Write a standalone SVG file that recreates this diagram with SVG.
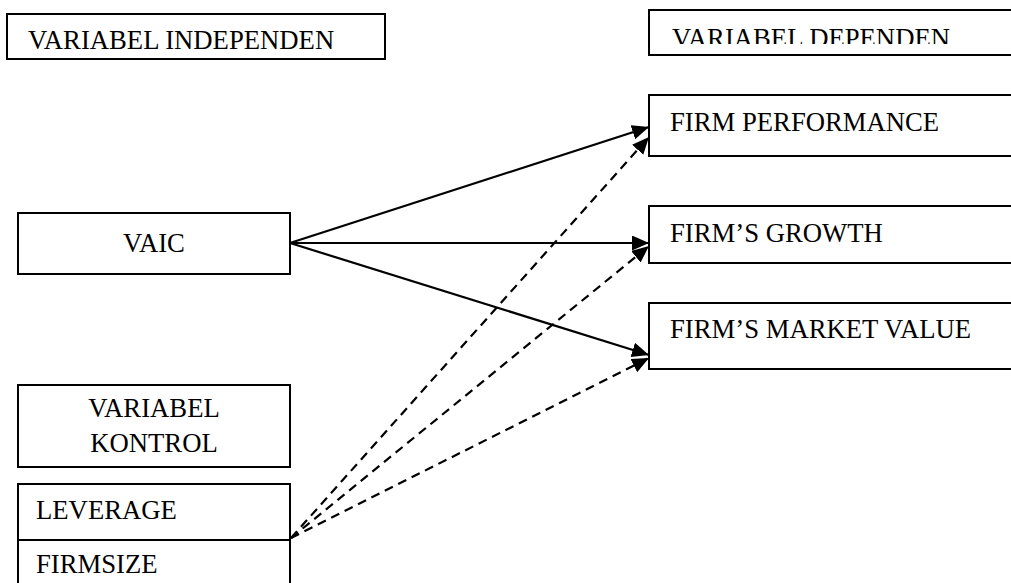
<svg xmlns="http://www.w3.org/2000/svg" width="1011" height="583" viewBox="0 0 1011 583">
<style>
.box{fill:#fff;stroke:#000;stroke-width:2}
.t{font-family:"Liberation Serif","Times New Roman",serif;font-size:26.7px;fill:#000}
.c{text-anchor:middle}
.solid{stroke:#000;stroke-width:2.2;fill:none}
.dash{stroke:#000;stroke-width:2.2;fill:none;stroke-dasharray:9 6}
</style>
<defs>
<marker id="ah" markerUnits="userSpaceOnUse" markerWidth="20" markerHeight="16" refX="17" refY="7.5" orient="auto">
<path d="M0,0 L17,7.5 L0,15 z" fill="#000"/>
</marker>
<clipPath id="clipDep"><rect x="650" y="10" width="361" height="34"/></clipPath>
</defs>
<rect width="1011" height="583" fill="#fff"/>
<g id="connectors">
<line class="solid" x1="290" y1="243" x2="649" y2="127" marker-end="url(#ah)"/>
<line class="solid" x1="290" y1="243" x2="649" y2="243" marker-end="url(#ah)"/>
<line class="solid" x1="290" y1="243" x2="649" y2="355" marker-end="url(#ah)"/>
<line class="dash" x1="291" y1="538" x2="649" y2="137" marker-end="url(#ah)"/>
<line class="dash" x1="291" y1="538" x2="649" y2="246" marker-end="url(#ah)"/>
<line class="dash" x1="291" y1="538" x2="649" y2="358" marker-end="url(#ah)"/>
</g>
<g id="var-independen">
<rect class="box" x="7" y="14" width="378" height="45"/>
<text class="t" x="28" y="49">VARIABEL INDEPENDEN</text>
</g>
<g id="var-dependen">
<rect class="box" x="649" y="10" width="380" height="45"/>
<text class="t" x="672" y="47" clip-path="url(#clipDep)">VARIABEL DEPENDEN</text>
</g>
<g id="firm-performance">
<rect class="box" x="649" y="95" width="380" height="61"/>
<text class="t" x="670" y="131">FIRM PERFORMANCE</text>
</g>
<g id="firm-growth">
<rect class="box" x="649" y="206" width="380" height="57"/>
<text class="t" x="670" y="242">FIRM’S GROWTH</text>
</g>
<g id="firm-market-value">
<rect class="box" x="649" y="303" width="380" height="66"/>
<text class="t" x="670" y="338">FIRM’S MARKET VALUE</text>
</g>
<g id="vaic">
<rect class="box" x="18" y="213" width="272" height="61"/>
<text class="t c" x="154" y="252">VAIC</text>
</g>
<g id="var-kontrol">
<rect class="box" x="18" y="385" width="272" height="82"/>
<text class="t c" x="154" y="417">VARIABEL</text>
<text class="t c" x="154" y="452">KONTROL</text>
</g>
<g id="leverage">
<rect class="box" x="18" y="484" width="272" height="56"/>
<text class="t" x="36" y="519">LEVERAGE</text>
</g>
<g id="firmsize">
<rect class="box" x="18" y="540" width="272" height="60"/>
<text class="t" x="36" y="573">FIRMSIZE</text>
</g>
</svg>
